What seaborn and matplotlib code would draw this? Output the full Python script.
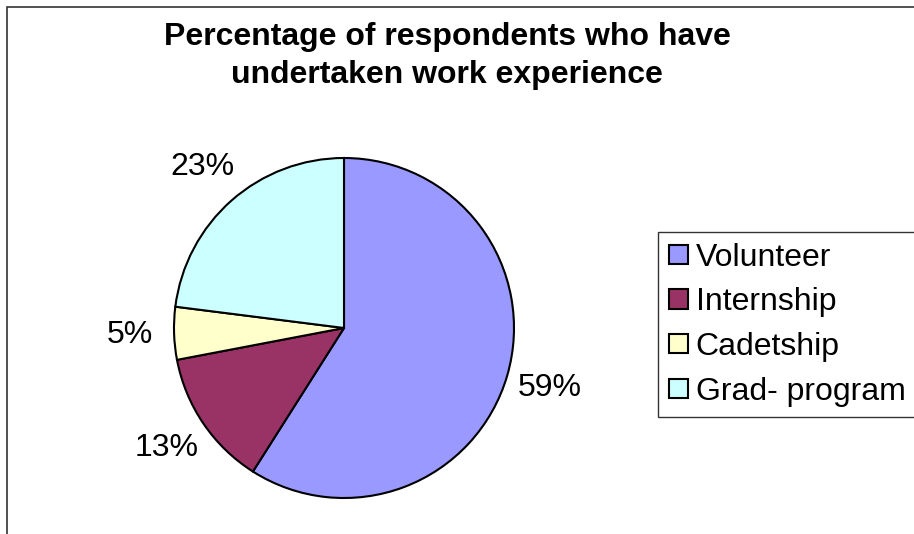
import matplotlib
matplotlib.use("Agg")
import matplotlib.pyplot as plt
from matplotlib.patches import Rectangle
import seaborn as sns

# Work experience types and share of respondents (%)
categories = ["Volunteer", "Internship", "Cadetship", "Grad- program"]
shares = [59, 13, 5, 23]
colors = ["#9999FF", "#993366", "#FFFFCC", "#CCFFFF"]
title_lines = ["Percentage of respondents who have", "undertaken work experience"]

sns.set_theme(style="white")
plt.rcParams["font.family"] = ["Liberation Sans", "DejaVu Sans"]
plt.rcParams["text.color"] = "black"

W, H, DPI = 914, 534, 100
FS = 23
fig = plt.figure(figsize=(W / DPI, H / DPI), dpi=DPI)
fig.patch.set_facecolor("white")

# chart-area border (runs off the right and bottom edges)
fig.patches.append(Rectangle((7 / W, -0.1), 1.2, 1 - 7 / H + 0.1,
                             transform=fig.transFigure, fill=False,
                             edgecolor="#333333", linewidth=1.2))

# pie axes: circle centred at (344, 328) px with radius 170 px
cx, cy, r = 344, 328, 170
ax = fig.add_axes([(cx - r) / W, (H - cy - r) / H, 2 * r / W, 2 * r / H])
palette = sns.color_palette(colors)
wedges, _, autotexts = ax.pie(
    shares, colors=palette, startangle=90, counterclock=False,
    autopct=lambda p: f"{p:.0f}%", pctdistance=1.26,
    wedgeprops=dict(edgecolor="black", linewidth=1.5),
    textprops=dict(fontsize=FS, color="black"))
ax.set_xlim(-1, 1)
ax.set_ylim(-1, 1)
ax.set_aspect("equal")
ax.axis("off")

# two-line bold title
for line, base_y in zip(title_lines, [45, 83]):
    fig.text(447 / W, 1 - base_y / H, line, ha="center", va="baseline",
             fontsize=FS, fontweight="bold", color="black")

leg = fig.legend(wedges, categories, loc="upper left",
                 bbox_to_anchor=(658 / W, 1 - 232 / H),
                 bbox_transform=fig.transFigure, frameon=True,
                 fancybox=False, edgecolor="black", fontsize=FS,
                 labelcolor="black",
                 handlelength=0.6, handleheight=0.56, handletextpad=0.25,
                 labelspacing=0.46, borderpad=0.33, borderaxespad=0)
leg.get_frame().set_linewidth(1.0)
for h in leg.legend_handles:
    h.set_edgecolor("black")
    h.set_linewidth(1.5)

fig.savefig("out.png", dpi=DPI, facecolor="white")
